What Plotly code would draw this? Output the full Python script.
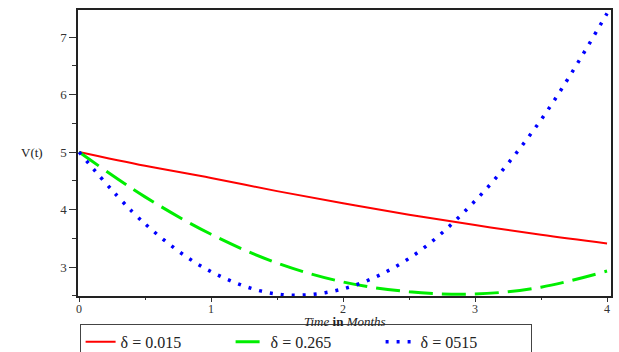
import plotly.graph_objects as go

t = [0, 0.5, 1, 1.5, 2, 2.5, 3, 3.5, 4]
v_red = [5.0, 4.76, 4.55, 4.32, 4.11, 3.91, 3.73, 3.56, 3.41]
v_green = [5.0, 4.22, 3.57, 3.07, 2.74, 2.57, 2.53, 2.65, 2.93]
v_blue = [5.0, 3.75, 2.92, 2.53, 2.62, 3.15, 4.15, 5.56, 7.41]
names = ["δ = 0.015", "δ = 0.265", "δ = 0515"]
x_ticks = [0, 1, 2, 3, 4]
y_ticks = [3, 4, 5, 6, 7]

serif = "Liberation Serif"

fig = go.Figure()
fig.add_trace(go.Scatter(x=t, y=v_red, mode="lines", name=names[0],
                         line=dict(color="#ff0000", width=2, shape="spline")))
fig.add_trace(go.Scatter(x=t, y=v_green, mode="lines", name=names[1],
                         line=dict(color="#00ee00", width=3, dash="24px,9px", shape="spline")))
fig.add_trace(go.Scatter(x=t, y=v_blue, mode="lines", name=names[2],
                         line=dict(color="#0000ff", width=3.5, dash="3px,8px", shape="spline")))

fig.update_layout(
    width=619, height=352,
    margin=dict(l=78, r=8, t=10, b=56, autoexpand=False),
    paper_bgcolor="white", plot_bgcolor="white",
    font=dict(family=serif, size=12, color="#333"),
    showlegend=True,
    legend=dict(orientation="h", x=0.003, xanchor="left", y=-0.097, yanchor="top",
                bordercolor="#444", borderwidth=1, font=dict(family=serif, size=16, color="#222"),
                entrywidth=105, entrywidthmode="pixels", tracegroupgap=0),
    xaxis=dict(range=[-0.008, 4.03], tickvals=x_ticks, ticks="outside", ticklen=4,
               tickcolor="#333", showline=True, linecolor="#222", linewidth=1.5, mirror=True,
               showgrid=False, zeroline=False, tickfont=dict(family=serif, size=12, color="#333"),
               ticklabelstandoff=-3,
               minor=dict(tickvals=[0.5, 1.5, 2.5, 3.5], ticks="outside", ticklen=2, tickcolor="#333")),
    yaxis=dict(range=[2.496, 7.47], tickvals=y_ticks, ticks="outside", ticklen=7,
               tickcolor="#333", showline=True, linecolor="#222", linewidth=1.5, mirror=True,
               showgrid=False, zeroline=False, tickfont=dict(family=serif, size=13, color="#333"),
               minor=dict(tickvals=[2.5, 3.5, 4.5, 5.5, 6.5], ticks="outside", ticklen=4, tickcolor="#333")),
)

fig.add_annotation(text="V(t)", xref="paper", yref="y", x=-0.062, y=5, xanchor="right",
                   showarrow=False, font=dict(family=serif, size=13, color="#222"))
fig.add_annotation(text="<i>Time</i> <b>in</b> <i>Months</i>", xref="paper", yref="paper",
                   x=0.5, y=-0.088, yanchor="middle", showarrow=False,
                   font=dict(family=serif, size=13, color="#222"))

fig.write_html("out.html", config={"displayModeBar": False},
               post_script="document.body.style.margin='0px';document.body.style.overflow='hidden';")
